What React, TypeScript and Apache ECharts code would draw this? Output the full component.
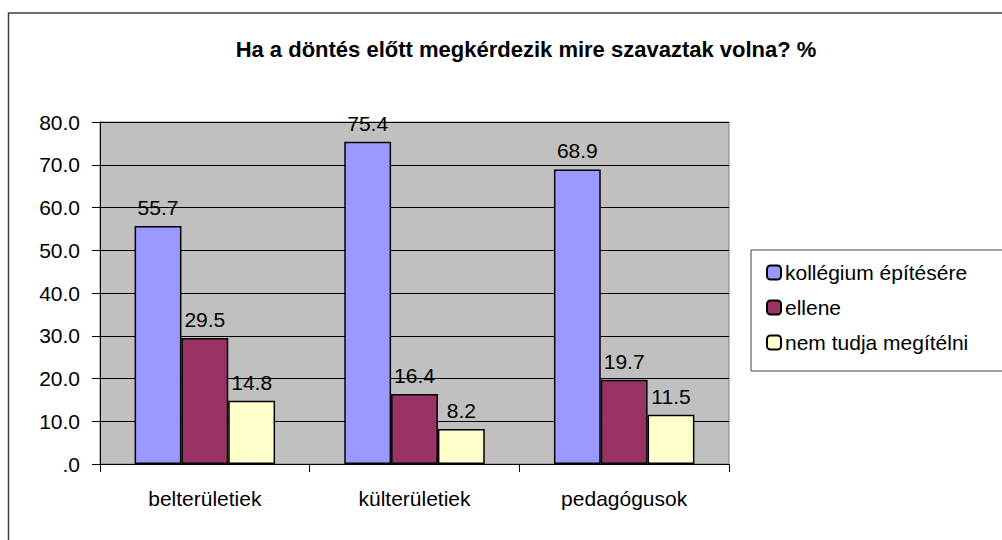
import React, { useEffect, useRef } from "react";
import * as echarts from "echarts";

const categories = ["belterületiek", "külterületiek", "pedagógusok"];
const seriesNames = ["kollégium építésére", "ellene", "nem tudja megítélni"];
const kollegium = [55.7, 75.4, 68.9];
const ellene = [29.5, 16.4, 19.7];
const nemTudja = [14.8, 8.2, 11.5];
const colors = ["#9999FF", "#993366", "#FFFFCC"];
const titleText = "Ha a döntés előtt megkérdezik mire szavaztak volna? %";

export default function App() {
  const ref = useRef<HTMLDivElement>(null);
  useEffect(() => {
    if (!ref.current) return;
    const chart = echarts.init(ref.current, null, { renderer: "svg" });
    const font = "'Liberation Sans', Arial, sans-serif";
    const values = [kollegium, ellene, nemTudja];
    chart.setOption({
      animation: false,
      backgroundColor: "#ffffff",
      textStyle: { fontFamily: font },
      title: {
        text: titleText,
        left: 521,
        textAlign: "center",
        top: 33,
        textStyle: { fontSize: 22, fontWeight: "bold", color: "#000", fontFamily: font },
      },
      graphic: [
        {
          type: "rect",
          shape: { x: 8.5, y: 13, width: 1100, height: 600 },
          style: { fill: "none", stroke: "#404040", lineWidth: 1.5 },
          silent: true,
        },
        {
          type: "rect",
          shape: { x: 751, y: 250, width: 400, height: 121 },
          style: { fill: "none", stroke: "#404040", lineWidth: 1 },
          silent: true,
        },
      ],
      grid: { left: 100, top: 122, right: 273, bottom: 76, show: true, backgroundColor: "#C0C0C0", borderColor: "#808080", borderWidth: 1 },
      legend: {
        orient: "vertical",
        left: 761,
        top: 257,
        itemWidth: 14,
        itemHeight: 14,
        itemGap: 14,
        data: seriesNames,
        textStyle: { fontSize: 21, color: "#000", fontFamily: font, padding: [0, 0, 0, -1] },
      },
      xAxis: {
        type: "category",
        data: categories,
        axisLine: { lineStyle: { color: "#000", width: 1 } },
        axisTick: { show: true, length: 8, lineStyle: { color: "#000" } },
        axisLabel: { fontSize: 21, color: "#000", margin: 24, fontFamily: font },
      },
      yAxis: {
        type: "value",
        min: 0,
        max: 80,
        interval: 10,
        axisLine: { show: true, lineStyle: { color: "#000", width: 1 } },
        axisTick: { show: true, length: 8, lineStyle: { color: "#000" } },
        axisLabel: {
          fontSize: 21,
          color: "#000",
          margin: 20,
          fontFamily: font,
          formatter: (v: number) => (v === 0 ? ".0" : v.toFixed(1)),
        },
        splitLine: { lineStyle: { color: "#000", width: 1 } },
      },
      series: seriesNames.map((name, i) => ({
        name,
        type: "bar",
        data: values[i],
        barGap: "0%",
        barCategoryGap: "33%",
        itemStyle: { color: colors[i], borderColor: "#000", borderWidth: 1.5 },
        label: {
          show: true,
          position: "top",
          distance: 8,
          fontSize: 21,
          color: "#000",
          fontFamily: font,
          formatter: (p: any) => Number(p.value).toFixed(1),
        },
      })),
    });
    return () => chart.dispose();
  }, []);
  return (
    <div
      ref={ref}
      style={{ position: "fixed", left: 0, top: 0, width: 1002, height: 540 }}
    />
  );
}
